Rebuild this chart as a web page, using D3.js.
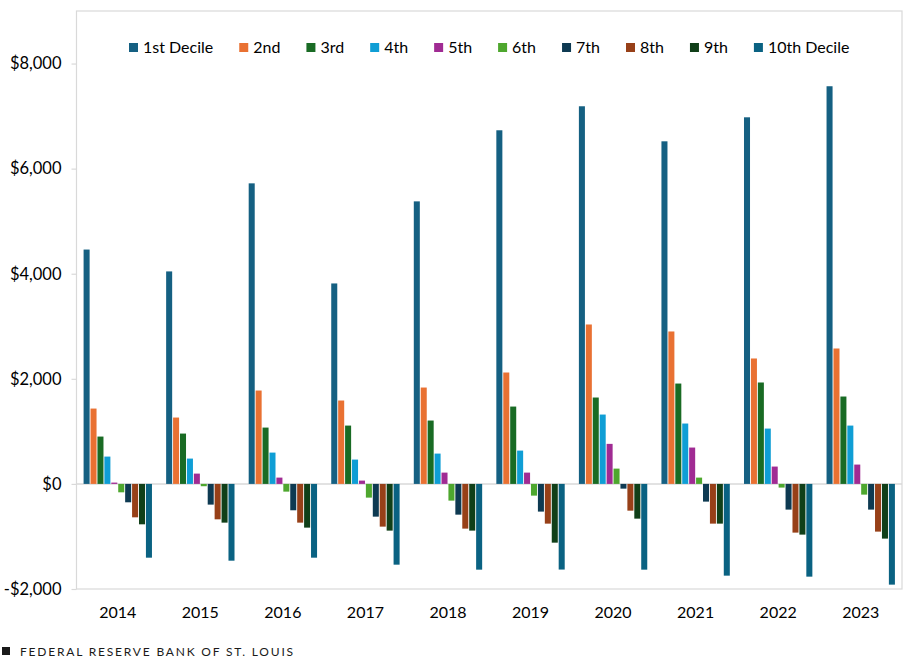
<!DOCTYPE html>
<html>
<head>
<meta charset="utf-8">
<script src="https://cdn.jsdelivr.net/npm/d3@7"></script>
<style>
  body { margin: 0; background: #fff; }
  text { font-family: Lato, "Open Sans", sans-serif; fill: #000; }
</style>
</head>
<body>
<div id="chart"></div>
<script>
// Chart data
var years = ["2014", "2015", "2016", "2017", "2018", "2019", "2020", "2021", "2022", "2023"];
var deciles = ["1st Decile", "2nd", "3rd", "4th", "5th", "6th", "7th", "8th", "9th", "10th Decile"];
var colors = ["#156082", "#E97132", "#196B24", "#0F9ED5", "#A02B93", "#4EA72E", "#0E3A52", "#974018", "#103F18", "#0A6282"];

var decile1 = [4460, 4044, 5720, 3815, 5377, 6730, 7187, 6520, 6977, 7568];
var decile2 = [1434, 1263, 1777, 1587, 1834, 2120, 3034, 2901, 2387, 2577];
var decile3 = [901, 958, 1072, 1110, 1206, 1472, 1644, 1910, 1930, 1663];
var decile4 = [520, 482, 596, 463, 577, 634, 1320, 1149, 1053, 1110];
var decile5 = [25, 196, 120, 63, 215, 215, 762, 692, 330, 368];
var decile6 = [-160, -44, -147, -261, -318, -223, 291, 120, -70, -204];
var decile7 = [-350, -394, -502, -623, -585, -527, -90, -337, -489, -489];
var decile8 = [-636, -674, -737, -813, -851, -756, -509, -756, -927, -908];
var decile9 = [-769, -737, -832, -889, -889, -1118, -661, -756, -965, -1041];
var decile10 = [-1404, -1461, -1404, -1537, -1632, -1630, -1632, -1746, -1765, -1917];

var yTicks = [-2000, 0, 2000, 4000, 6000, 8000];

var series = [decile1, decile2, decile3, decile4, decile5, decile6, decile7, decile8, decile9, decile10];

// SVG area
var svgWidth = 909;
var svgHeight = 660;
var plot = { left: 76.5, right: 902, top: 11, bottom: 589 };

var svg = d3.select("#chart").append("svg")
    .attr("width", svgWidth)
    .attr("height", svgHeight);

// scales
var x0 = d3.scaleBand()
    .domain(years)
    .range([plot.left, plot.right])
    .paddingInner(0.15)
    .paddingOuter(0.075);

var x1 = d3.scaleBand()
    .domain(deciles)
    .range([0, x0.bandwidth()])
    .padding(0.13);

var y = d3.scaleLinear()
    .domain([-2000, 9000])
    .range([plot.bottom, plot.top]);

// plot border
svg.append("rect")
    .attr("x", plot.left)
    .attr("y", plot.top)
    .attr("width", plot.right - plot.left)
    .attr("height", plot.bottom - plot.top)
    .attr("fill", "none")
    .attr("stroke", "#d9d9d9")
    .attr("stroke-width", 1.2);

// y axis
var fmt = d3.format(",");
var leftAxis = d3.axisLeft(y)
    .tickValues(yTicks)
    .tickSize(5)
    .tickPadding(10)
    .tickFormat(d => (d < 0 ? "-$" : "$") + fmt(Math.abs(d)));

var yAxis = svg.append("g")
    .attr("transform", `translate(${plot.left}, 0)`)
    .call(leftAxis);
yAxis.select(".domain").remove();
yAxis.selectAll(".tick line").attr("stroke", "#d9d9d9").attr("stroke-width", 1.2);
yAxis.selectAll(".tick text")
    .style("font-family", "Lato, 'Open Sans', sans-serif")
    .style("font-size", "16.5px")
    .attr("fill", "#000");

// zero line
svg.append("line")
    .attr("x1", plot.left)
    .attr("x2", plot.right)
    .attr("y1", y(0))
    .attr("y2", y(0))
    .attr("stroke", "#d9d9d9")
    .attr("stroke-width", 1.5);

// bars
var groups = svg.selectAll(".year")
    .data(years)
    .enter()
    .append("g")
    .attr("class", "year")
    .attr("transform", d => `translate(${x0(d)}, 0)`);

groups.selectAll("rect")
    .data((d, i) => deciles.map((k, j) => ({ key: k, value: series[j][i], color: colors[j] })))
    .enter()
    .append("rect")
    .attr("x", d => x1(d.key))
    .attr("width", x1.bandwidth())
    .attr("y", d => y(Math.max(0, d.value)))
    .attr("height", d => Math.abs(y(d.value) - y(0)))
    .attr("fill", d => d.color);

// x labels
var bottomAxis = d3.axisBottom(x0).tickSize(0).tickPadding(18);
var xAxis = svg.append("g")
    .attr("transform", `translate(0, ${plot.bottom})`)
    .call(bottomAxis);
xAxis.select(".domain").remove();
xAxis.selectAll(".tick text")
    .style("font-family", "Lato, 'Open Sans', sans-serif")
    .style("font-size", "16px")
    .attr("fill", "#000");

// legend
var legend = svg.append("g").attr("class", "legend");
var lx = 129;
deciles.forEach(function(name, i) {
    legend.append("rect")
        .attr("x", lx)
        .attr("y", 43)
        .attr("width", 9)
        .attr("height", 9)
        .attr("fill", colors[i]);
    var t = legend.append("text")
        .attr("x", lx + 14)
        .attr("y", 53)
        .style("font-size", "16px")
        .text(name);
    lx += 14 + t.node().getComputedTextLength() + 26;
});

// footer
svg.append("rect")
    .attr("x", 2)
    .attr("y", 647)
    .attr("width", 8)
    .attr("height", 8)
    .attr("fill", "#1a1a1a");
svg.append("text")
    .attr("x", 20)
    .attr("y", 656)
    .style("font-size", "12px")
    .style("letter-spacing", "1.8px")
    .style("fill", "#1a1a1a")
    .text("FEDERAL RESERVE BANK OF ST. LOUIS");
</script>
</body>
</html>
